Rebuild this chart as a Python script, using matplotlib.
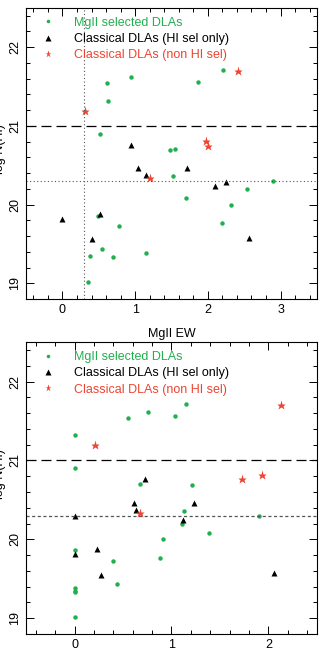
import matplotlib.pyplot as plt
from matplotlib.ticker import MultipleLocator

# 数据 (上图: MgII EW 比值, 下图: MgII EW)
green_x1 = [0.61, 0.63, 0.95, 1.86, 2.21, 0.52, 1.48, 1.55, 1.52, 1.70, 2.32,
            2.54, 2.20, 2.90, 0.49, 0.78, 0.545, 0.375, 0.70, 1.15, 0.35]
green_y1 = [21.54, 21.32, 21.62, 21.56, 21.71, 20.90, 20.69, 20.70, 20.36, 20.08, 20.00,
            20.20, 19.76, 20.30, 19.86, 19.73, 19.43, 19.35, 19.33, 19.38, 19.01]
black_x1 = [0.95, 1.04, 1.155, 1.72, 2.10, 2.25, 0.0, 0.51, 0.41, 2.57]
black_y1 = [20.76, 20.46, 20.37, 20.46, 20.24, 20.29, 19.82, 19.88, 19.56, 19.58]
red_x1 = [0.31, 2.42, 1.97, 2.00, 1.21]
red_y1 = [21.19, 21.70, 20.81, 20.75, 20.34]

green_x2 = [0.0, 0.55, 0.76, 1.035, 1.145, 0.0, 0.68, 1.21, 1.13, 1.11, 1.39,
            0.91, 0.88, 0.40, 0.44, 0.0, 0.0, 0.0, 0.0, 0.0, 1.90]
green_y2 = [21.32, 21.54, 21.62, 21.56, 21.71, 20.90, 20.70, 20.69, 20.36, 20.20, 20.08,
            20.00, 19.76, 19.73, 19.43, 19.86, 19.38, 19.35, 19.33, 19.01, 20.30]
black_x2 = [0.73, 0.61, 0.63, 1.23, 1.12, 0.0, 0.0, 0.23, 0.27, 2.06]
black_y2 = [20.76, 20.46, 20.37, 20.46, 20.24, 20.29, 19.82, 19.88, 19.55, 19.57]
red_x2 = [0.21, 2.13, 1.73, 1.93, 0.68]
red_y2 = [21.19, 21.70, 20.76, 20.81, 20.34]

green = '#22b04f'
red = '#ee4433'
labels = ['MgII selected DLAs', 'Classical DLAs (HI sel only)', 'Classical DLAs (non HI sel)']

plt.rcParams['font.family'] = ['Liberation Sans', 'DejaVu Sans']
fig = plt.figure(figsize=(3.26, 6.5), dpi=100)
ax1 = fig.add_axes([0.08, 0.54, 0.892, 0.448])
ax2 = fig.add_axes([0.08, 0.0246, 0.892, 0.449])


def draw(ax, gx, gy, bx, by, rx, ry, xlim):
    ax.plot(gx, gy, 'o', color=green, ms=3.2, mec='none', label=labels[0])
    ax.plot(bx, by, '^', color='black', ms=5, mec='none', label=labels[1])
    ax.plot(rx, ry, '*', color=red, ms=6.5, mec='none', label=labels[2])
    ax.axhline(21, color='black', lw=0.9, ls=(0, (8, 4)))
    ax.set_xlim(*xlim)
    ax.set_ylim(18.8, 22.5)
    ax.xaxis.set_major_locator(MultipleLocator(1))
    ax.xaxis.set_minor_locator(MultipleLocator(0.2))
    ax.yaxis.set_major_locator(MultipleLocator(1))
    ax.yaxis.set_minor_locator(MultipleLocator(0.2))
    ax.tick_params(which='both', direction='in', top=True, right=True, width=0.7)
    ax.tick_params(which='major', length=6, labelsize=9, colors='black')
    ax.tick_params(which='minor', length=3)
    for lab in ax.get_yticklabels():
        lab.set_rotation(90)
        lab.set_va('center')
    for s in ax.spines.values():
        s.set_linewidth(0.8)
    leg = ax.legend(loc='upper left', bbox_to_anchor=(0.024, 1.0), frameon=False,
                    fontsize=9, handlelength=1.0, handletextpad=1.58, labelspacing=0.35,
                    markerscale=0.8, borderaxespad=0.3)
    for t, c in zip(leg.get_texts(), [green, 'black', red]):
        t.set_color(c)


draw(ax1, green_x1, green_y1, black_x1, black_y1, red_x1, red_y1, (-0.5, 3.5))
ax1.axhline(20.3, color='#555555', lw=0.8, ls=(0, (1, 2.2)))
ax1.axvline(0.3, color='#555555', lw=0.8, ls=(0, (1, 2.2)))
ax1.set_xlabel('MgII EW', fontsize=9, labelpad=9)

draw(ax2, green_x2, green_y2, black_x2, black_y2, red_x2, red_y2, (-0.5, 2.5))
ax2.axhline(20.3, color='#555555', lw=0.9, ls=(0, (2.5, 2)))

# y 轴标签在原图中被左边缘截断
fig.text(0.0, 0.77, 'log N(HI)', rotation=90, fontsize=9, va='center', ha='center')
fig.text(0.0, 0.27, 'log N(HI)', rotation=90, fontsize=9, va='center', ha='center')

plt.savefig('out.png', dpi=100)
